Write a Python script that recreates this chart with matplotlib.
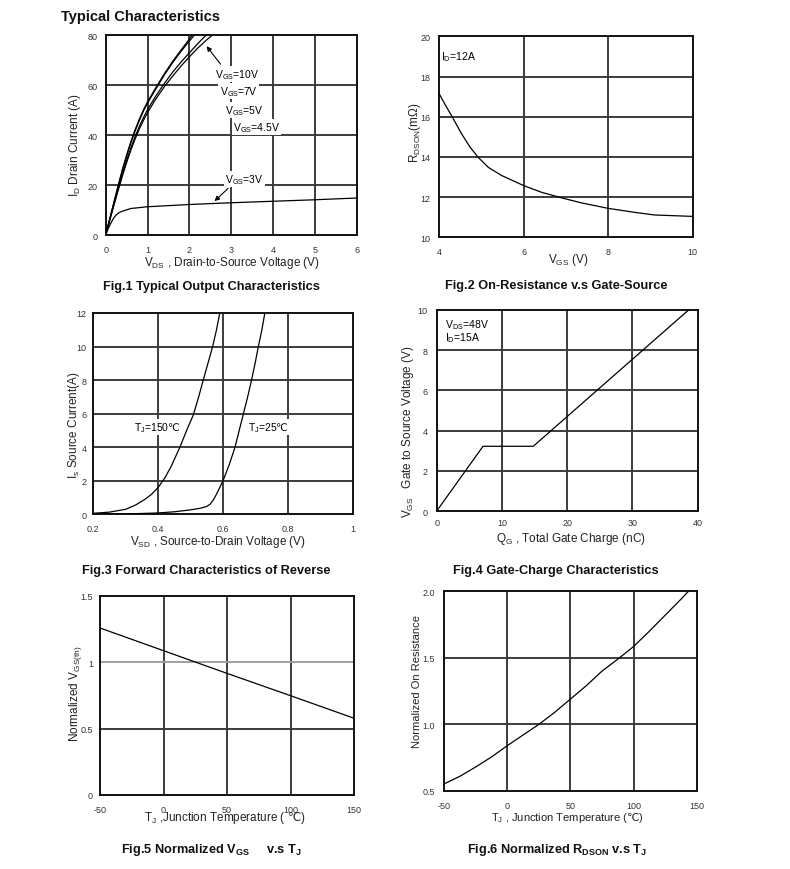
import matplotlib
matplotlib.use("Agg")
import matplotlib.pyplot as plt

plt.rcParams['font.family'] = ['Liberation Sans', 'DejaVu Sans', 'Noto Sans CJK SC']
plt.rcParams['mathtext.default'] = 'regular'

# ---------------- data ----------------
# Fig.1 output characteristics (VDS in V, ID in A)
vds_10v = [0, 0.1, 0.2, 0.3, 0.4, 0.5, 0.6, 0.7, 0.8, 0.9, 1.0, 1.2, 1.4, 1.6, 1.8, 2.07]
id_10v = [0, 6.7, 13.4, 20, 26.3, 32, 37.3, 42, 46.2, 50, 53.3, 59, 64.5, 69.5, 74, 80]
vds_7v = [0, 0.1, 0.2, 0.3, 0.4, 0.5, 0.6, 0.7, 0.8, 0.9, 1.0, 1.2, 1.4, 1.6, 1.8, 2.0, 2.12]
id_7v = [0, 6.6, 13.1, 19.5, 25.8, 31.5, 36.8, 41.5, 45.7, 49.5, 52.8, 58.5, 64, 69, 73.5, 77.6, 80]
vds_5v = [0, 0.1, 0.2, 0.3, 0.4, 0.5, 0.6, 0.7, 0.8, 0.9, 1.0, 1.2, 1.4, 1.6, 1.8, 2.0, 2.2, 2.4]
id_5v = [0, 6.3, 12.5, 18.5, 24.4, 29.8, 34.8, 39.3, 43.3, 46.9, 50.2, 55.7, 60.6, 65.2, 69.2, 72.9, 76.6, 80]
vds_45v = [0, 0.1, 0.2, 0.3, 0.4, 0.5, 0.6, 0.7, 0.8, 0.9, 1.0, 1.2, 1.4, 1.6, 1.8, 2.0, 2.2, 2.4, 2.55]
id_45v = [0, 6.1, 12.1, 18, 23.7, 29, 33.9, 38.3, 42.3, 45.8, 49, 54.5, 59.3, 63.6, 67.6, 71.3, 74.8, 77.9, 80]
vds_3v = [0, 0.05, 0.1, 0.15, 0.2, 0.25, 0.3, 0.35, 0.45, 0.6, 1.0, 2.0, 3.0, 4.0, 5.0, 6.0]
id_3v = [0, 2.2, 4, 5.6, 7, 8.0, 8.7, 9.2, 9.8, 10.6, 11.3, 12.2, 12.9, 13.5, 14.1, 14.8]

# Fig.2 RDSON vs VGS
vgs_r = [4.0, 4.13, 4.29, 4.53, 4.73, 4.92, 5.16, 5.48, 6.0, 6.42, 6.9, 7.37, 8.0, 8.63, 9.1, 10.0]
rdson = [17.13, 16.63, 16.05, 15.14, 14.48, 13.98, 13.48, 13.07, 12.57, 12.24, 11.96, 11.71,
         11.44, 11.24, 11.11, 11.04]

# Fig.3 body diode forward characteristics
vsd_150 = [0.2, 0.25, 0.3, 0.33, 0.36, 0.38, 0.4, 0.42, 0.44, 0.467, 0.49, 0.508, 0.525,
           0.539, 0.555, 0.568, 0.58, 0.59]
is_150 = [0.06, 0.13, 0.3, 0.55, 0.9, 1.2, 1.6, 2.15, 2.85, 4.0, 5.1, 5.9, 7.0, 8.0, 9.1,
          10.0, 11.0, 12.0]
vsd_25 = [0.2, 0.3, 0.4, 0.45, 0.498, 0.53, 0.549, 0.56, 0.57, 0.58, 0.59, 0.6, 0.62, 0.637,
          0.65, 0.663, 0.676, 0.688, 0.699, 0.709, 0.72, 0.729]
is_25 = [0.0, 0.02, 0.08, 0.15, 0.26, 0.36, 0.46, 0.6, 0.85, 1.2, 1.6, 2.0, 3.0, 4.0, 5.0,
         6.0, 7.0, 8.0, 9.0, 10.0, 11.0, 12.0]

# Fig.4 gate charge
qg = [0, 7.1, 14.8, 38.6]
vgs_q = [0, 3.22, 3.22, 10.0]

# Fig.5 normalized VGS(th) vs TJ
tj_vth = [-50, 0, 50, 100, 150]
vth_norm = [1.257, 1.086, 0.915, 0.747, 0.577]

# Fig.6 normalized RDSON vs TJ
tj_r = [-50, -37.5, -25, -12.5, 0, 12.5, 25, 37.5, 50, 62.5, 75, 87.5, 100, 112.5, 125,
        137.5, 143.5]
r_norm = [0.553, 0.61, 0.68, 0.755, 0.84, 0.92, 1.0, 1.09, 1.19, 1.29, 1.40, 1.49, 1.585,
          1.70, 1.82, 1.94, 2.0]

# ---------------- layout ----------------
W, H = 790, 870
fig = plt.figure(figsize=(W / 100, H / 100), dpi=100)


def rect(l, t, r, b):
    return [l / W, 1 - b / H, (r - l) / W, (b - t) / H]


def pf(x, y):
    return (x / W, 1 - y / H)


GRID = '#3c3c3c'
TICKC = '#333333'


def style(ax, xlim, ylim, xticks, yticks, xtl, ytl, xpad, ypad, light=None):
    ax.set_xlim(*xlim)
    ax.set_ylim(*ylim)
    ax.set_xticks(xticks)
    ax.set_yticks(yticks)
    ax.set_xticklabels(xtl)
    ax.set_yticklabels(ytl)
    ax.tick_params(length=0, labelsize=6.5, labelcolor=TICKC)
    ax.tick_params(axis='x', pad=xpad)
    ax.tick_params(axis='y', pad=ypad)
    for s in ax.spines.values():
        s.set_linewidth(1.4)
        s.set_color('#111111')
    for x in xticks[1:-1]:
        ax.axvline(x, color=GRID, lw=1.4, zorder=1)
    for y in yticks[1:-1]:
        c = '#a0a0a0' if (light is not None and y == light) else GRID
        ax.axhline(y, color=c, lw=1.4, zorder=1)


def labels(ax, xl, xpos, yl, ypos, fs=8.5):
    ax.set_xlabel(xl, fontsize=fs, color='#222222')
    ax.set_ylabel(yl, fontsize=fs, color='#222222')
    ax.xaxis.set_label_coords(*pf(*xpos), transform=fig.transFigure)
    ax.yaxis.set_label_coords(*pf(*ypos), transform=fig.transFigure)
    ax.xaxis.label.set_va('center')
    ax.yaxis.label.set_va('center')


LW = 0.9
BOX = dict(facecolor='white', edgecolor='none', pad=1.0)

# Fig.1
ax1 = fig.add_axes(rect(105.7, 36, 357, 236))
style(ax1, (0, 6), (0, 80), [0, 1, 2, 3, 4, 5, 6], [0, 20, 40, 60, 80],
      ['0', '1', '2', '3', '4', '5', '6'], ['0', '20', '40', '60', '80'], 7.5, 5.8)
for xs, ys in [(vds_10v, id_10v), (vds_7v, id_7v), (vds_5v, id_5v), (vds_45v, id_45v), (vds_3v, id_3v)]:
    ax1.plot(xs, ys, color='black', lw=LW, zorder=3)
labels(ax1, 'V$_{DS}$ , Drain-to-Source Voltage (V)', (231.7, 262.7),
       'I$_D$ Drain Current (A)', (75, 145))
for txt, x, y in [('V$_{GS}$=10V', 3.14, 64.4), ('V$_{GS}$=7V', 3.17, 57.6),
                  ('V$_{GS}$=5V', 3.32, 50.0), ('V$_{GS}$=4.5V', 3.6, 43.2),
                  ('V$_{GS}$=3V', 3.32, 22.4)]:
    ax1.text(x, y, txt, fontsize=7.5, ha='center', va='center', bbox=BOX, zorder=4)
arr = dict(arrowstyle='-|>', color='black', lw=0.8, mutation_scale=7)
ax1.annotate('', xy=(2.37, 76.4), xytext=(2.78, 67.5), arrowprops=arr, zorder=5)
ax1.annotate('', xy=(2.55, 12.8), xytext=(2.97, 19.4), arrowprops=arr, zorder=5)

# Fig.2
ax2 = fig.add_axes(rect(439.3, 37.3, 692.7, 238.3))
style(ax2, (4, 10), (10, 20), [4, 6, 8, 10], [10, 12, 14, 16, 18, 20],
      ['4', '6', '8', '10'], ['10', '12', '14', '16', '18', '20'], 7.3, 6.5)
ax2.plot(vgs_r, rdson, color='black', lw=LW, zorder=3)
labels(ax2, 'V$_{GS}$ (V)', (568, 260), 'R$_{DSON}$(m\u03a9)', (415, 133))
ax2.text(4.05, 19.0, 'I$_D$=12A', fontsize=7.5, ha='left', va='center')

# Fig.3
ax3 = fig.add_axes(rect(93.3, 314, 352.7, 515.3))
style(ax3, (0.2, 1.0), (0, 12), [0.2, 0.4, 0.6, 0.8, 1.0], [0, 2, 4, 6, 8, 10, 12],
      ['0.2', '0.4', '0.6', '0.8', '1'], ['0', '2', '4', '6', '8', '10', '12'], 7.3, 5.0)
ax3.plot(vsd_150, is_150, color='black', lw=LW, zorder=3)
ax3.plot(vsd_25, is_25, color='black', lw=LW, zorder=3)
labels(ax3, 'V$_{SD}$ , Source-to-Drain Voltage (V)', (218.3, 541.7),
       'I$_s$ Source Current(A)', (73.5, 425))
ax3.text(0.3255, 5.2, 'T$_J$=150$\\mathrm{\u2103}$', fontsize=7.5, ha='left', va='center',
         bbox=BOX, zorder=4)
ax3.text(0.677, 5.2, 'T$_J$=25$\\mathrm{\u2103}$', fontsize=7.5, ha='left', va='center',
         bbox=BOX, zorder=4)

# Fig.4
ax4 = fig.add_axes(rect(436.7, 311, 697.7, 512))
style(ax4, (0, 40), (0, 10), [0, 10, 20, 30, 40], [0, 2, 4, 6, 8, 10],
      ['0', '10', '20', '30', '40'], ['0', '2', '4', '6', '8', '10'], 4.7, 6.5)
ax4.plot(qg, vgs_q, color='black', lw=LW, zorder=3)
labels(ax4, 'Q$_G$ , Total Gate Charge (nC)', (570.8, 539.3),
       'V$_{GS}$   Gate to Source Voltage (V)', (408.3, 431.7))
ax4.text(1.2, 9.65, 'V$_{DS}$=48V\nI$_D$=15A', fontsize=7.5, ha='left', va='top',
         linespacing=0.95)

# Fig.5
ax5 = fig.add_axes(rect(100, 596.7, 354.3, 796))
style(ax5, (-50, 150), (0, 1.5), [-50, 0, 50, 100, 150], [0, 0.5, 1.0, 1.5],
      ['-50', '0', '50', '100', '150'], ['0', '0.5', '1', '1.5'], 7.5, 5.0, light=1.0)
ax5.plot(tj_vth, vth_norm, color='black', lw=LW, zorder=3)
labels(ax5, 'T$_J$ ,Junction Temperature ( $\\mathrm{\u2103}$)', (225, 818.3),
       'Normalized V$_{GS(th)}$', (76, 694))

# Fig.6
ax6 = fig.add_axes(rect(444, 592.3, 696.7, 792))
style(ax6, (-50, 150), (0.5, 2.0), [-50, 0, 50, 100, 150], [0.5, 1.0, 1.5, 2.0],
      ['-50', '0', '50', '100', '150'], ['0.5', '1.0', '1.5', '2.0'], 7.5, 6.5)
ax6.plot(tj_r, r_norm, color='black', lw=LW, zorder=3)
labels(ax6, 'T$_J$ , Junction Temperature ($\\mathrm{\u2103}$)', (567.5, 818.3),
       'Normalized On Resistance', (416.7, 682), fs=8)

# Titles / captions
fig.text(*pf(61, 17), 'Typical Characteristics', fontsize=10.5, fontweight='bold',
         ha='left', va='center', color='#111111')
caps = [('Fig.1 Typical Output Characteristics', 211, 287),
        ('Fig.2 On-Resistance v.s Gate-Source', 556.7, 285.7),
        ('Fig.3 Forward Characteristics of Reverse', 205.8, 570.7),
        ('Fig.4 Gate-Charge Characteristics', 555.8, 570.7),
        ('Fig.5 Normalized V$_{GS}$     v.s T$_J$', 211.7, 850),
        ('Fig.6 Normalized R$_{DSON}$ v.s T$_J$', 556.7, 850)]
for t, x, y in caps:
    fig.text(*pf(x, y), t, fontsize=9.2, fontweight='bold', ha='center', va='center',
             color='#111111')

fig.savefig('out.png', dpi=100, facecolor='white')
